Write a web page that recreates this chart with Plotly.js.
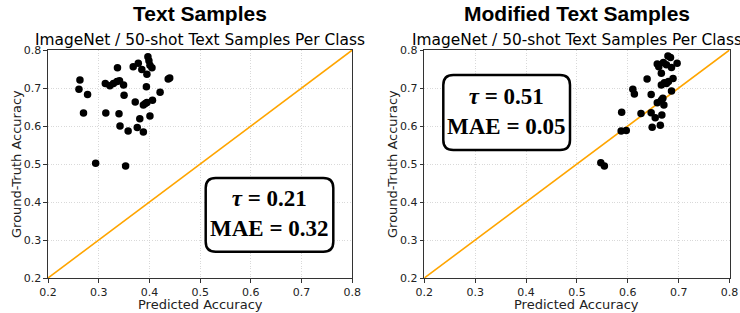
<!DOCTYPE html>
<html>
<head>
<meta charset="utf-8">
<script src="https://cdn.plot.ly/plotly-3.0.1.min.js"></script>
<style>html,body{margin:0;padding:0;background:#fff;}#chart{width:740px;height:313px;}</style>
</head>
<body>
<div id="chart"></div>
<script>
// Left panel: Text Samples
const leftPred = [0.263,0.261,0.278,0.270,0.294,0.313,0.322,0.329,0.336,0.341,0.337,0.349,0.350,0.314,0.340,0.342,0.358,0.353,0.368,0.378,0.385,0.397,0.399,0.401,0.405,0.395,0.394,0.437,0.421,0.406,0.395,0.388,0.372,0.401,0.381,0.376,0.388,0.440,0.392];
const leftTrue = [0.721,0.697,0.683,0.634,0.502,0.712,0.706,0.712,0.717,0.719,0.753,0.708,0.681,0.634,0.632,0.600,0.587,0.495,0.756,0.765,0.749,0.782,0.772,0.760,0.753,0.736,0.703,0.724,0.689,0.668,0.662,0.655,0.663,0.626,0.619,0.596,0.584,0.726,0.659];
// Right panel: Modified Text Samples
const rightPred = [0.547,0.554,0.587,0.597,0.588,0.610,0.613,0.626,0.638,0.646,0.646,0.654,0.648,0.664,0.667,0.658,0.666,0.671,0.669,0.658,0.661,0.666,0.670,0.679,0.684,0.686,0.697,0.676,0.689,0.680,0.676,0.666,0.686,0.672];
const rightTrue = [0.503,0.495,0.587,0.588,0.636,0.697,0.684,0.633,0.724,0.683,0.635,0.622,0.597,0.602,0.629,0.661,0.668,0.655,0.673,0.763,0.756,0.739,0.767,0.784,0.780,0.754,0.765,0.761,0.725,0.717,0.712,0.708,0.692,0.714];
const diagLine = [0.2, 0.8];
const tickVals = [0.2,0.3,0.4,0.5,0.6,0.7,0.8];
const tickText = ["0.2","0.3","0.4","0.5","0.6","0.7","0.8"];
const panelTitles = ["Text Samples", "Modified Text Samples"];
const subTitle = "ImageNet / 50-shot Text Samples Per Class";
const tauVals = ["0.21", "0.51"];
const maeVals = ["0.32", "0.05"];
const xLabel = "Predicted Accuracy";
const yLabel = "Ground-Truth Accuracy";

const W = 740, H = 313;
const plotTop = 50, plotBot = 278;
const doms = [[48, 352.3], [424.3, 729.5]];

function px2paperX(p){ return p / W; }
function px2paperY(p){ return (plotBot - p) / (plotBot - plotTop); }

const traces = [
  {x: diagLine, y: diagLine, mode:'lines', line:{color:'#FFA500', width:1.6}, xaxis:'x', yaxis:'y', hoverinfo:'skip'},
  {x: leftPred, y: leftTrue, mode:'markers', marker:{color:'#000', size:7.5}, xaxis:'x', yaxis:'y'},
  {x: diagLine, y: diagLine, mode:'lines', line:{color:'#FFA500', width:1.6}, xaxis:'x2', yaxis:'y2', hoverinfo:'skip'},
  {x: rightPred, y: rightTrue, mode:'markers', marker:{color:'#000', size:7.5}, xaxis:'x2', yaxis:'y2'}
];

function axisBase(dom, anchor){
  return {
    domain: dom, anchor: anchor, range:[0.2,0.8], tickvals: tickVals, ticktext: tickText,
    showline:true, mirror:true, linecolor:'#333', linewidth:1.1,
    ticks:'outside', ticklen:3.5, tickcolor:'#333', tickwidth:1,
    showgrid:true, gridcolor:'#cfcfcf', griddash:'1px,1.6px', gridwidth:0.8,
    zeroline:false, tickfont:{family:'DejaVu Sans', size:11, color:'#222'},
    automargin:false, fixedrange:true
  };
}

const layout = {
  width: W, height: H, showlegend:false,
  paper_bgcolor:'#fff', plot_bgcolor:'#fff',
  margin:{l:0, r:0, t:plotTop, b:H-plotBot, pad:0},
  xaxis: axisBase([px2paperX(doms[0][0]), px2paperX(doms[0][1])], 'y'),
  yaxis: axisBase([0,1], 'x'),
  xaxis2: axisBase([px2paperX(doms[1][0]), px2paperX(doms[1][1])], 'y2'),
  yaxis2: axisBase([0,1], 'x2'),
  annotations: [],
  shapes: []
};

const centers = [(doms[0][0]+doms[0][1])/2, (doms[1][0]+doms[1][1])/2];
const yTitleX = [16, 392];
for (let i=0;i<2;i++){
  layout.annotations.push({xref:'paper', yref:'paper', x:px2paperX(centers[i]), y:px2paperY(14),
    text:'<b>'+panelTitles[i]+'</b>', showarrow:false, xanchor:'center', yanchor:'middle',
    font:{family:'Liberation Sans', size:21, color:'#000'}});
  layout.annotations.push({xref:'paper', yref:'paper', x:px2paperX(centers[i]), y:px2paperY(40),
    text:subTitle, showarrow:false, xanchor:'center', yanchor:'middle',
    font:{family:'DejaVu Sans', size:15.4, color:'#000'}});
  layout.annotations.push({xref:'paper', yref:'paper', x:px2paperX(centers[i]), y:px2paperY(304),
    text:xLabel, showarrow:false, xanchor:'center', yanchor:'middle',
    font:{family:'DejaVu Sans', size:13, color:'#222'}});
  layout.annotations.push({xref:'paper', yref:'paper', x:px2paperX(yTitleX[i]), y:0.5,
    text:yLabel, showarrow:false, xanchor:'center', yanchor:'middle', textangle:-90,
    font:{family:'DejaVu Sans', size:13, color:'#222'}});
}

// rounded boxes (pixel extents of the boxes)
const boxes = [
  {xr:'x', yr:'y', x0:205.7, x1:333.3, y0:178, y1:251.7, dom:doms[0]},
  {xr:'x2', yr:'y2', x0:443.3, x1:570, y0:75, y1:150, dom:doms[1]}
];
boxes.forEach((b, i) => {
  const sx = 0.6/(b.dom[1]-b.dom[0]);
  const sy = 0.6/(plotBot-plotTop);
  const X = p => 0.2 + (p - b.dom[0])*sx;
  const Y = p => 0.8 - (p - plotTop)*sy;
  const r = 10;
  const rx = r*sx, ry = r*sy;
  const xa = X(b.x0), xb = X(b.x1), ya = Y(b.y0), yb = Y(b.y1);
  const path = `M ${xa+rx},${ya} L ${xb-rx},${ya} Q ${xb},${ya} ${xb},${ya-ry} L ${xb},${yb+ry} Q ${xb},${yb} ${xb-rx},${yb} L ${xa+rx},${yb} Q ${xa},${yb} ${xa},${yb+ry} L ${xa},${ya-ry} Q ${xa},${ya} ${xa+rx},${ya} Z`;
  layout.shapes.push({type:'path', xref:b.xr, yref:b.yr, path:path, line:{color:'#000', width:2.5}, fillcolor:'#fff', layer:'above'});
  const cx = (xa+xb)/2, cy = Y((b.y0+b.y1)/2 - 1);
  layout.annotations.push({xref:b.xr, yref:b.yr, x:cx, y:cy,
    text:'<b><i>τ</i> = '+tauVals[i]+'</b><br><b>MAE = '+maeVals[i]+'</b>',
    showarrow:false, xanchor:'center', yanchor:'middle', align:'center',
    font:{family:'Liberation Serif', size:23, color:'#000'}});
});

Plotly.newPlot('chart', traces, layout, {staticPlot:true, displayModeBar:false});
</script>
</body>
</html>
